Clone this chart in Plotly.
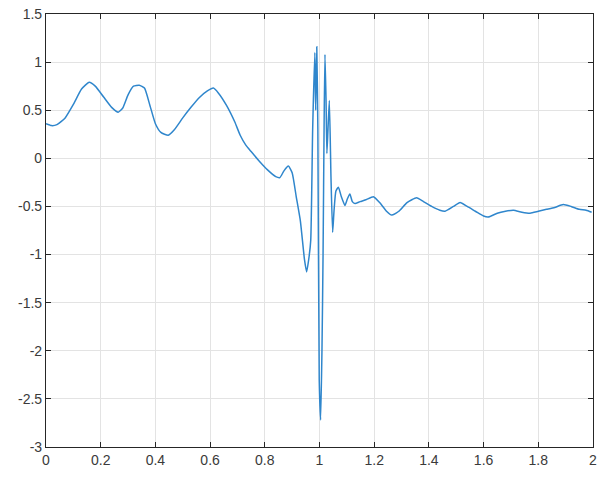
import plotly.graph_objects as go

x_vals = [0.0, 0.02, 0.04, 0.07, 0.10, 0.13, 0.158, 0.18, 0.21, 0.24, 0.264, 0.28, 0.30, 0.32, 0.341,
          0.36, 0.38, 0.40, 0.42, 0.447, 0.47, 0.50, 0.53, 0.56, 0.59, 0.612, 0.63, 0.66, 0.69, 0.71,
          0.73, 0.75, 0.78, 0.81, 0.84, 0.855, 0.87, 0.886, 0.90, 0.915, 0.93, 0.945, 0.953, 0.962,
          0.968, 0.975, 0.983, 0.986, 0.990, 0.994, 0.999, 1.004, 1.009, 1.013, 1.017, 1.020, 1.024,
          1.027, 1.031, 1.036, 1.042, 1.048, 1.053, 1.060, 1.069, 1.08, 1.093, 1.102, 1.111, 1.12,
          1.13, 1.148, 1.17, 1.197, 1.22, 1.245, 1.264, 1.29, 1.32, 1.355, 1.38, 1.41, 1.44, 1.459,
          1.49, 1.514, 1.54, 1.57, 1.60, 1.617, 1.65, 1.68, 1.709, 1.74, 1.77, 1.80, 1.83, 1.86,
          1.891, 1.92, 1.95, 1.975, 1.995]
y_vals = [0.36, 0.34, 0.35, 0.42, 0.56, 0.72, 0.79, 0.75, 0.64, 0.53, 0.48, 0.52, 0.66, 0.75, 0.76,
          0.73, 0.55, 0.36, 0.27, 0.24, 0.30, 0.42, 0.53, 0.63, 0.70, 0.73, 0.68, 0.55, 0.38, 0.24,
          0.14, 0.07, -0.03, -0.12, -0.19, -0.20, -0.13, -0.08, -0.15, -0.40, -0.65, -1.05, -1.18, -1.02,
          -0.85, 0.30, 1.10, 0.50, 1.16, 0.30, -2.30, -2.72, -2.00, -1.00, 0.40, 1.08, 0.60,
          0.05, 0.30, 0.60, -0.20, -0.77, -0.55, -0.34, -0.30, -0.40, -0.49, -0.42, -0.37, -0.45,
          -0.47, -0.45, -0.43, -0.40, -0.46, -0.55, -0.59, -0.55, -0.46, -0.41, -0.45, -0.50, -0.54, -0.55,
          -0.50, -0.46, -0.50, -0.55, -0.60, -0.61, -0.57, -0.55, -0.54, -0.56, -0.57, -0.55, -0.53, -0.51,
          -0.48, -0.50, -0.53, -0.54, -0.56]

x_ticks = [0, 0.2, 0.4, 0.6, 0.8, 1, 1.2, 1.4, 1.6, 1.8, 2]
x_tick_labels = ["0", "0.2", "0.4", "0.6", "0.8", "1", "1.2", "1.4", "1.6", "1.8", "2"]
y_ticks = [-3, -2.5, -2, -1.5, -1, -0.5, 0, 0.5, 1, 1.5]
y_tick_labels = ["-3", "-2.5", "-2", "-1.5", "-1", "-0.5", "0", "0.5", "1", "1.5"]

fig = go.Figure()
fig.add_trace(go.Scatter(x=x_vals, y=y_vals, mode="lines",
                         line=dict(color="#2f86cc", width=1.5, shape="spline", smoothing=0.5),
                         showlegend=False, hoverinfo="skip"))

axis_common = dict(showgrid=True, gridcolor="#e3e3e3", gridwidth=1, zeroline=False,
                   showline=True, linecolor="#262626", linewidth=1.2, mirror="ticks",
                   ticks="inside", ticklen=5, tickcolor="#262626", automargin=False,
                   ticklabeloverflow="allow",
                   tickfont=dict(family="Liberation Sans, Arial, sans-serif", size=14, color="#3a3a3a"))

fig.update_layout(
    width=597, height=477,
    margin=dict(l=46, r=4, t=14, b=30),
    paper_bgcolor="white", plot_bgcolor="white",
    xaxis=dict(range=[0, 2], tickvals=x_ticks, ticktext=x_tick_labels, **axis_common),
    yaxis=dict(range=[-3, 1.5], tickvals=y_ticks, ticktext=y_tick_labels, **axis_common),
)

fig.write_html("out.html", config={"displayModeBar": False},
               post_script="document.body.style.margin='0px';document.body.style.overflow='hidden';")
